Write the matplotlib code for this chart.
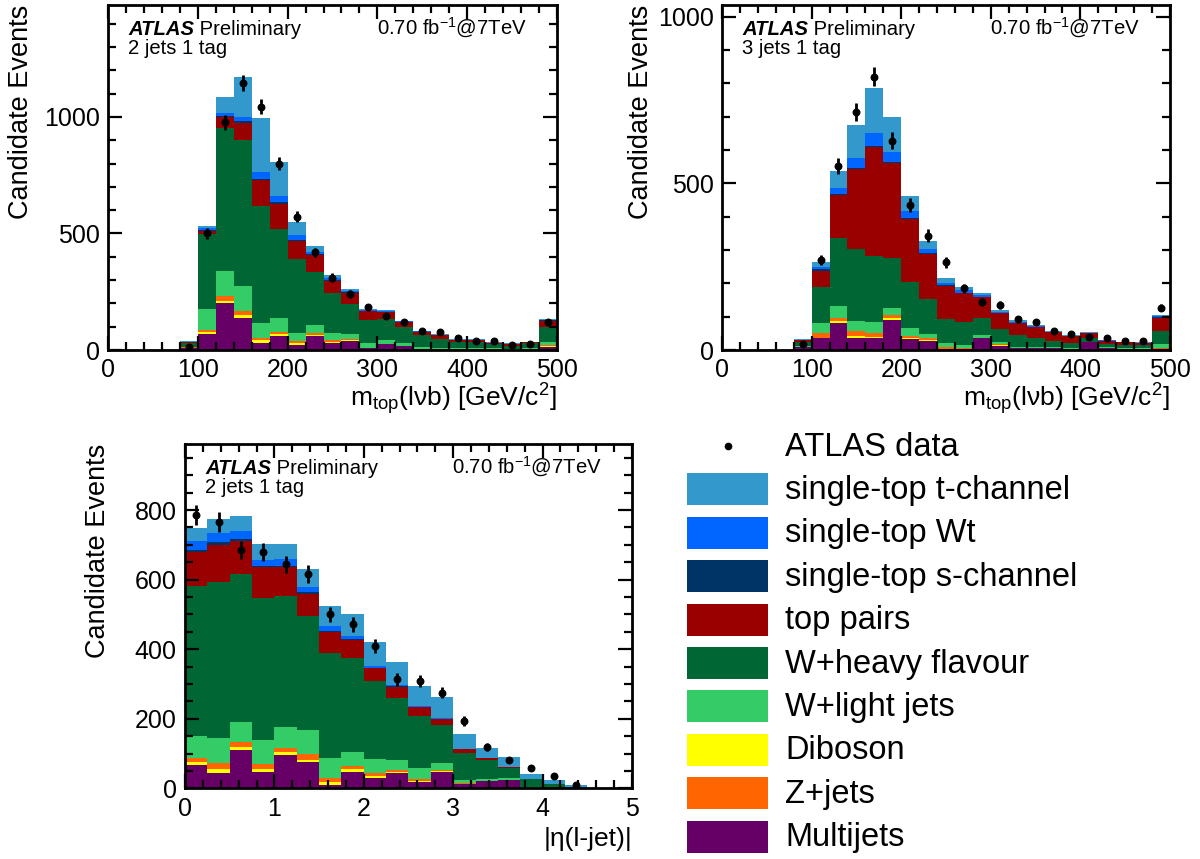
import numpy as np
import matplotlib
matplotlib.use('Agg')
import matplotlib.pyplot as plt
from matplotlib.patches import Rectangle
from matplotlib.ticker import MultipleLocator

plt.rcParams['font.family'] = ['Liberation Sans', 'DejaVu Sans']
plt.rcParams['mathtext.fontset'] = 'custom'
plt.rcParams['mathtext.rm'] = 'Liberation Sans'
plt.rcParams['mathtext.it'] = 'Liberation Sans:italic'
plt.rcParams['mathtext.bf'] = 'Liberation Sans:bold'

# stack order, bottom -> top
samples = ['Multijets', 'Diboson', 'Z+jets', 'W+light jets', 'W+heavy flavour',
           'top pairs', 'single-top s-channel', 'single-top Wt', 'single-top t-channel']
colors = ['#660066', '#ffff00', '#ff6600', '#33cc66', '#006633',
          '#990000', '#003366', '#0066ff', '#3399cc']
legend_order = ['single-top t-channel', 'single-top Wt', 'single-top s-channel', 'top pairs',
                'W+heavy flavour', 'W+light jets', 'Diboson', 'Z+jets', 'Multijets']

# ---- m_top(lvb), 2 jets 1 tag : bins 80..500 GeV, 20 GeV wide ----
mtop_edges = np.linspace(80, 500, 22)
j2_data     = [14, 500, 976, 1144, 1043, 800, 571, 419, 311, 240, 183, 147, 119, 81, 79, 53, 40, 40, 21, 24, 121]
j2_multijet = [8, 70, 200, 139, 32, 60, 21, 60, 31, 40, 7, 24, 17, 5, 4, 3, 3, 2, 2, 3, 14]
j2_diboson  = [2, 6, 10, 13, 12, 7, 8, 4, 5, 2, 0, 0, 0, 0, 0, 0, 0, 0, 0, 0, 2]
j2_zjets    = [2, 8, 23, 15, 9, 12, 10, 7, 7, 4, 3, 1, 1, 1, 1, 1, 1, 1, 0, 1, 5]
j2_wlight   = [3, 90, 106, 107, 64, 60, 35, 36, 28, 21, 21, 18, 13, 8, 5, 3, 3, 4, 3, 4, 15]
j2_wheavy   = [17, 324, 615, 626, 500, 380, 316, 229, 175, 129, 98, 90, 69, 50, 37, 29, 26, 17, 14, 21, 64]
j2_ttbar    = [3, 14, 46, 74, 112, 107, 79, 71, 50, 50, 37, 28, 19, 15, 17, 7, 10, 5, 5, 4, 26]
j2_schan    = [0, 2, 3, 8, 4, 10, 5, 4, 4, 3, 1, 1, 1, 0, 0, 0, 0, 0, 0, 0, 1]
j2_wt       = [1, 8, 14, 19, 31, 24, 19, 10, 10, 5, 3, 4, 3, 2, 1, 2, 2, 3, 2, 1, 2]
j2_tchan    = [4, 11, 67, 170, 232, 147, 56, 26, 10, 7, 4, 5, 3, 2, 2, 2, 2, 4, 3, 2, 4]

# ---- m_top(lvb), 3 jets 1 tag ----
j3_data     = [18, 270, 552, 713, 820, 628, 435, 343, 263, 185, 143, 135, 92, 85, 57, 47, 38, 35, 27, 27, 127]
j3_multijet = [8, 35, 82, 37, 35, 90, 34, 28, 3, 2, 35, 13, 5, 5, 5, 4, 23, 5, 3, 3, 4]
j3_diboson  = [0, 2, 5, 5, 5, 5, 3, 2, 0, 0, 0, 2, 0, 0, 0, 0, 0, 0, 0, 0, 0]
j3_zjets    = [1, 13, 10, 15, 12, 10, 5, 5, 5, 5, 0, 2, 0, 0, 0, 0, 0, 0, 0, 0, 1]
j3_wlight   = [3, 30, 35, 30, 33, 22, 23, 12, 12, 8, 10, 6, 5, 5, 5, 3, 2, 5, 2, 2, 12]
j3_wheavy   = [12, 108, 205, 215, 197, 150, 140, 106, 72, 69, 52, 39, 35, 27, 17, 15, 12, 7, 10, 10, 40]
j3_ttbar    = [5, 50, 127, 240, 326, 283, 188, 135, 100, 86, 61, 48, 35, 31, 26, 20, 13, 11, 8, 5, 40]
j3_schan    = [0, 4, 3, 3, 5, 4, 2, 2, 2, 2, 2, 1, 1, 1, 0, 0, 0, 0, 0, 0, 1]
j3_wt       = [1, 8, 19, 30, 39, 31, 22, 13, 8, 8, 5, 4, 4, 3, 2, 1, 1, 1, 1, 1, 3]
j3_tchan    = [2, 14, 52, 100, 135, 103, 46, 24, 13, 8, 7, 5, 5, 3, 2, 2, 2, 1, 1, 2, 4]

# ---- |eta(light jet)|, 2 jets 1 tag : bins 0..5, 0.25 wide ----
eta_edges    = np.linspace(0, 5, 21)
eta_data     = [786, 766, 685, 680, 644, 616, 500, 471, 409, 313, 309, 275, 194, 118, 81, 57, 36, 10, 0, 0]
eta_multijet = [67, 45, 110, 48, 96, 77, 10, 48, 29, 43, 19, 48, 11, 22, 24, 0, 0, 0, 0, 0]
eta_diboson  = [10, 11, 10, 8, 7, 5, 7, 7, 5, 5, 3, 2, 0, 0, 0, 0, 0, 0, 0, 0]
eta_zjets    = [11, 16, 14, 13, 12, 17, 12, 9, 9, 5, 4, 3, 5, 0, 0, 0, 0, 0, 0, 0]
eta_wlight   = [62, 72, 58, 70, 62, 69, 59, 39, 41, 28, 33, 19, 8, 4, 5, 5, 1, 0, 0, 0]
eta_wheavy   = [432, 448, 424, 409, 377, 327, 300, 273, 224, 180, 150, 110, 77, 54, 30, 21, 10, 5, 0, 0]
eta_ttbar    = [98, 109, 95, 87, 81, 65, 62, 50, 37, 31, 24, 17, 11, 6, 3, 1, 0, 0, 0, 0]
eta_schan    = [5, 6, 6, 4, 4, 4, 3, 3, 2, 1, 1, 1, 0, 0, 0, 0, 0, 0, 0, 0]
eta_wt       = [26, 28, 24, 17, 19, 16, 14, 10, 5, 4, 3, 1, 2, 1, 0, 0, 0, 0, 0, 0]
eta_tchan    = [38, 38, 42, 46, 44, 52, 58, 62, 68, 65, 57, 61, 42, 28, 27, 13, 13, 5, 0, 0]


def draw_stack(ax, edges, comps, data):
    bottom = np.zeros(len(edges) - 1)
    for vals, col in zip(comps, colors):
        vals = np.asarray(vals, float)
        ax.stairs(bottom + vals, edges, baseline=bottom, fill=True,
                  color=col, linewidth=0, antialiased=False)
        bottom = bottom + vals
    centres = 0.5 * (edges[1:] + edges[:-1])
    data = np.asarray(data, float)
    m = data > 0
    ax.errorbar(centres[m], data[m], yerr=np.sqrt(data[m]), fmt='o', color='k',
                ms=4.7, elinewidth=2.0, capsize=0, zorder=5)


def style(ax, xlim, ylim, xmaj, xmin, ymaj, ymin):
    ax.set_xlim(xlim)
    ax.set_ylim(ylim)
    ax.xaxis.set_major_locator(MultipleLocator(xmaj))
    ax.xaxis.set_minor_locator(MultipleLocator(xmin))
    ax.yaxis.set_major_locator(MultipleLocator(ymaj))
    ax.yaxis.set_minor_locator(MultipleLocator(ymin))
    ax.tick_params(which='both', direction='in', top=True, right=True,
                   width=1.6, labelsize=18, pad=6)
    ax.tick_params(which='major', length=10)
    ax.tick_params(which='minor', length=5.5)
    for s in ax.spines.values():
        s.set_linewidth(2.0)
        s.set_zorder(6)


def atlas_label(ax, channel):
    t = ax.text(0.045, 0.913, 'ATLAS', transform=ax.transAxes, fontsize=14.6,
                fontweight='bold', fontstyle='italic', va='baseline')
    ax.annotate(' Preliminary', xy=(1, 0), xycoords=t, va='bottom', fontsize=14.6)
    ax.text(0.045, 0.858, channel, transform=ax.transAxes, fontsize=14.6, va='baseline')
    ax.text(0.933, 0.913, '0.70 fb$^{-1}$@7TeV', transform=ax.transAxes,
            fontsize=14.6, ha='right', va='baseline')


def ylabel(ax, xoff):
    ax.text(xoff, 1.0, 'Candidate Events', transform=ax.transAxes, rotation=90,
            ha='center', va='top', fontsize=19.5)


W, H = 1200, 859
fig = plt.figure(figsize=(W / 100, H / 100), dpi=100)

ax1 = fig.add_axes([108 / W, 1 - 350 / H, 449 / W, 345 / H])
ax2 = fig.add_axes([722 / W, 1 - 350 / H, 448 / W, 345 / H])
ax3 = fig.add_axes([185 / W, 1 - 788.3 / H, 447 / W, 344.3 / H])

draw_stack(ax1, mtop_edges,
           [j2_multijet, j2_diboson, j2_zjets, j2_wlight, j2_wheavy, j2_ttbar, j2_schan, j2_wt, j2_tchan],
           j2_data)
draw_stack(ax2, mtop_edges,
           [j3_multijet, j3_diboson, j3_zjets, j3_wlight, j3_wheavy, j3_ttbar, j3_schan, j3_wt, j3_tchan],
           j3_data)
draw_stack(ax3, eta_edges,
           [eta_multijet, eta_diboson, eta_zjets, eta_wlight, eta_wheavy, eta_ttbar, eta_schan, eta_wt, eta_tchan],
           eta_data)

style(ax1, (0, 500), (0, 1480), 100, 20, 500, 100)
style(ax2, (0, 500), (0, 1035), 100, 20, 500, 100)
style(ax3, (0, 5), (0, 990), 1, 0.2, 200, 50)

atlas_label(ax1, '2 jets 1 tag')
atlas_label(ax2, '3 jets 1 tag')
atlas_label(ax3, '2 jets 1 tag')

ylabel(ax1, -87 / 449)
ylabel(ax2, -81 / 448)
ylabel(ax3, -87 / 447)

mlabel = 'm$_{\\mathrm{top}}$(l\u03bdb) [GeV/c$^{2}$]'
ax1.text(1.0, -0.164, mlabel, transform=ax1.transAxes, ha='right', va='baseline', fontsize=19)
ax2.text(1.0, -0.164, mlabel, transform=ax2.transAxes, ha='right', va='baseline', fontsize=19)
ax3.text(1.0, -0.168, '|\u03b7(l-jet)|', transform=ax3.transAxes, ha='right', va='baseline', fontsize=19)

# legend drawn in figure pixel coordinates
leg = fig.add_axes([0, 0, 1, 1])
leg.set_xlim(0, W)
leg.set_ylim(H, 0)
leg.axis('off')
row0, step = 446, 43.4
leg.plot([728], [row0], 'o', color='k', ms=4.5)
leg.text(785, row0 + 9.5, 'ATLAS data', fontsize=23.5, va='baseline')
for i, name in enumerate(legend_order):
    yc = row0 + step * (i + 1)
    col = colors[samples.index(name)]
    leg.add_patch(Rectangle((687, yc - 16), 81, 32, facecolor=col, edgecolor='none'))
    leg.text(785, yc + 9.5, name, fontsize=23.5, va='baseline')

fig.savefig('out.png', dpi=100)
